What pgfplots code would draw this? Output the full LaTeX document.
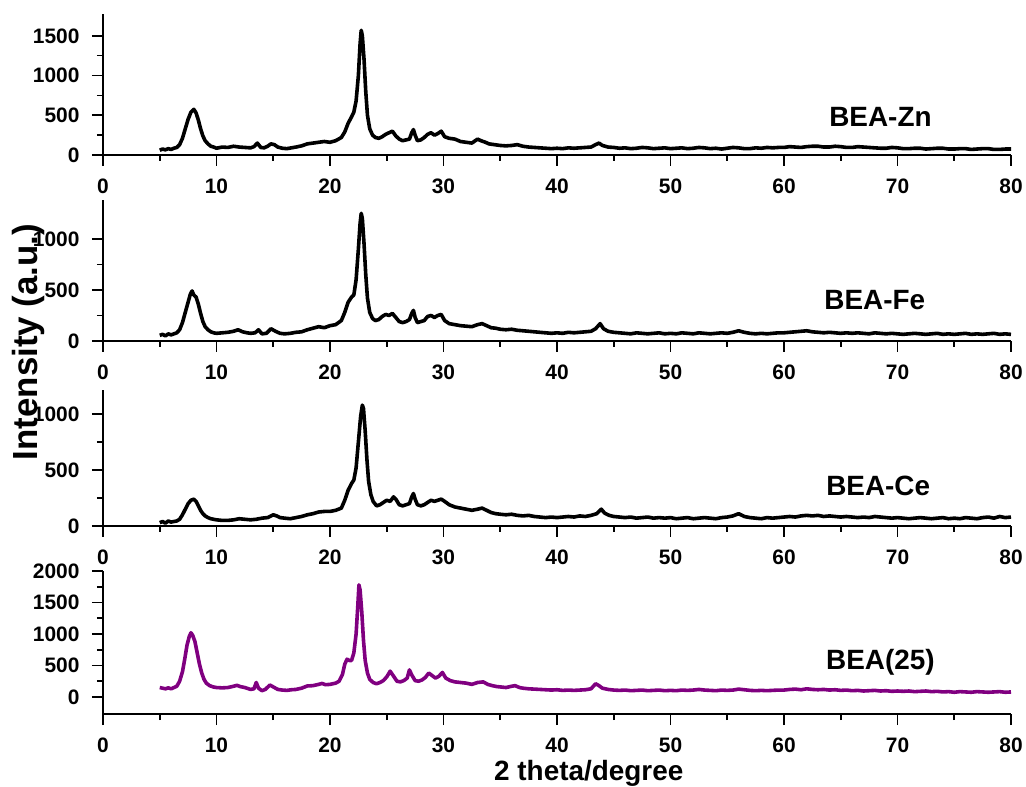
\documentclass[border=0pt]{standalone}
\usepackage{fontspec}
\setmainfont{Liberation Sans}
\usepackage{pgfplots}
\pgfplotsset{compat=1.18}
\definecolor{bpurple}{RGB}{128,0,128}
\tikzset{lab/.style={font=\fontsize{28}{32}\selectfont\bfseries}}
\pgfplotsset{
 panel/.style={
  scale only axis, width=908bp, anchor=south west,
  xmin=0, xmax=80, xtick={0,10,...,80}, minor x tick num=1,
  minor y tick num=1,
  axis x line*=bottom, axis y line*=left,
  axis line style={line width=1.6bp, -},
  tick align=outside,
  major tick length=11bp, minor tick length=6bp,
  every tick/.append style={line width=1.6bp, black},
  tick label style={font=\fontsize{21}{24}\selectfont\bfseries},
  xticklabel style={yshift=-9bp},
  yticklabel style={xshift=-9bp},
  /pgf/number format/assume math mode=true,
  /pgf/number format/1000 sep={},
  clip=false,
 },
 xrd/.style={line width=3.6bp, line join=round, black, no marks},
}
\begin{document}
\begin{tikzpicture}
\useasboundingbox (0,0) rectangle (1026bp,787bp);
% ---------- BEA-Zn ----------
\begin{axis}[panel, at={(103bp,632bp)}, height=141bp, ymin=0, ymax=1775, ytick={0,500,1000,1500}]
\addplot[xrd] coordinates {
(5.0,60)(5.25,75)(5.5,65)(5.75,80)(6.0,70)(6.25,85)(6.5,95)(6.75,130)(7.0,210)(7.25,330)(7.5,450)(7.75,540)(8.0,575)(8.2,530)(8.4,440)(8.6,330)(8.8,240)(9.0,180)(9.25,140)(9.5,110)(9.75,100)(10.0,85)(10.5,100)(11.0,95)(11.5,110)(12.0,100)(12.5,95)(13.0,90)(13.3,105)(13.6,150)(13.9,95)(14.2,90)(14.5,110)(14.8,140)(15.1,130)(15.4,100)(15.8,85)(16.2,80)(16.6,90)(17.0,100)(17.5,115)(18.0,140)(18.5,150)(19.0,160)(19.5,170)(20.0,160)(20.5,180)(21.0,220)(21.3,290)(21.6,400)(21.9,480)(22.1,540)(22.3,680)(22.5,1000)(22.65,1400)(22.75,1570)(22.85,1500)(23.0,1200)(23.15,800)(23.3,500)(23.5,330)(23.75,250)(24.0,220)(24.3,210)(24.6,230)(24.9,260)(25.2,280)(25.5,300)(25.8,240)(26.1,200)(26.4,180)(26.7,190)(27.0,200)(27.2,280)(27.35,320)(27.5,250)(27.7,180)(28.0,190)(28.3,220)(28.6,260)(28.9,280)(29.2,250)(29.5,270)(29.8,300)(30.1,230)(30.5,210)(31.0,200)(31.5,170)(32.0,160)(32.5,150)(33.0,200)(33.3,180)(33.7,160)(34.0,140)(34.5,130)(35.0,120)(35.5,115)(36.0,120)(36.5,130)(37.0,110)(37.5,100)(38.0,95)(38.5,90)(39.0,85)(39.5,80)(40.0,85)(40.5,80)(41.0,90)(41.5,85)(42.0,90)(42.5,95)(43.0,100)(43.4,130)(43.7,150)(44.0,120)(44.5,100)(45.0,95)(45.5,85)(46.0,90)(46.5,80)(47.0,85)(47.5,95)(48.0,90)(48.5,80)(49.0,85)(49.5,90)(50.0,80)(50.5,85)(51.0,90)(51.5,80)(52.0,85)(52.5,95)(53.0,90)(53.5,80)(54.0,85)(54.5,75)(55.0,85)(55.5,95)(56.0,90)(56.5,80)(57.0,80)(57.5,90)(58.0,85)(58.5,95)(59.0,90)(59.5,95)(60.0,95)(60.5,105)(61.0,100)(61.5,95)(62.0,105)(62.5,110)(63.0,110)(63.5,100)(64.0,100)(64.5,110)(65.0,105)(65.5,95)(66.0,95)(66.5,105)(67.0,100)(67.5,95)(68.0,90)(68.5,85)(69.0,85)(69.5,95)(70.0,90)(70.5,80)(71.0,80)(71.5,85)(72.0,85)(72.5,75)(73.0,80)(73.5,85)(74.0,85)(74.5,75)(75.0,75)(75.5,80)(76.0,80)(76.5,70)(77.0,75)(77.5,80)(78.0,80)(78.5,70)(79.0,70)(79.5,75)(80.0,75)};
\node[lab] at (axis cs:68.5,479) {BEA-Zn};
\end{axis}
% ---------- BEA-Fe ----------
\begin{axis}[panel, at={(103bp,446bp)}, height=141bp, ymin=0, ymax=1380, ytick={0,500,1000}]
\addplot[xrd] coordinates {
(5.0,55)(5.25,65)(5.5,50)(5.75,70)(6.0,60)(6.25,70)(6.5,80)(6.75,110)(7.0,180)(7.25,280)(7.5,380)(7.7,460)(7.85,490)(8.0,450)(8.2,430)(8.4,360)(8.6,270)(8.8,190)(9.0,140)(9.25,110)(9.5,90)(9.75,80)(10.0,75)(10.5,80)(11.0,85)(11.5,95)(11.9,110)(12.3,90)(12.7,80)(13.0,75)(13.4,80)(13.7,110)(14.0,70)(14.4,75)(14.8,120)(15.2,95)(15.6,75)(16.0,70)(16.5,75)(17.0,85)(17.5,90)(18.0,110)(18.5,125)(19.0,140)(19.5,130)(20.0,150)(20.5,160)(21.0,200)(21.3,280)(21.6,380)(21.9,430)(22.1,450)(22.3,600)(22.5,900)(22.65,1150)(22.75,1250)(22.85,1200)(23.0,950)(23.15,650)(23.3,420)(23.5,280)(23.75,220)(24.0,200)(24.3,210)(24.6,240)(24.9,260)(25.2,250)(25.5,270)(25.8,230)(26.1,190)(26.4,180)(26.7,190)(27.0,210)(27.2,270)(27.35,300)(27.5,230)(27.7,180)(28.0,190)(28.3,200)(28.6,240)(28.9,250)(29.2,230)(29.5,250)(29.8,260)(30.1,200)(30.5,170)(31.0,160)(31.5,150)(32.0,145)(32.5,140)(33.0,160)(33.4,170)(33.8,150)(34.2,130)(34.6,125)(35.0,115)(35.5,110)(36.0,115)(36.5,105)(37.0,100)(37.5,95)(38.0,90)(38.5,85)(39.0,80)(39.5,75)(40.0,80)(40.5,75)(41.0,85)(41.5,80)(42.0,85)(42.5,90)(43.0,95)(43.4,120)(43.8,170)(44.1,120)(44.5,95)(45.0,85)(45.5,80)(46.0,75)(46.5,70)(47.0,80)(47.5,75)(48.0,70)(48.5,75)(49.0,80)(49.5,70)(50.0,75)(50.5,70)(51.0,80)(51.5,75)(52.0,70)(52.5,80)(53.0,75)(53.5,70)(54.0,75)(54.5,80)(55.0,75)(55.5,85)(56.0,100)(56.5,85)(57.0,75)(57.5,70)(58.0,75)(58.5,70)(59.0,75)(59.5,80)(60.0,80)(60.5,85)(61.0,90)(61.5,95)(62.0,100)(62.5,90)(63.0,85)(63.5,80)(64.0,85)(64.5,80)(65.0,75)(65.5,80)(66.0,75)(66.5,80)(67.0,75)(67.5,70)(68.0,80)(68.5,75)(69.0,70)(69.5,75)(70.0,70)(70.5,65)(71.0,70)(71.5,75)(72.0,70)(72.5,65)(73.0,70)(73.5,75)(74.0,65)(74.5,70)(75.0,65)(75.5,70)(76.0,75)(76.5,65)(77.0,70)(77.5,65)(78.0,70)(78.5,75)(79.0,65)(79.5,70)(80.0,65)};
\node[lab] at (axis cs:68,402) {BEA-Fe};
\end{axis}
% ---------- BEA-Ce ----------
\begin{axis}[panel, at={(103bp,261bp)}, height=136bp, ymin=0, ymax=1215, ytick={0,500,1000}]
\addplot[xrd] coordinates {
(5.0,30)(5.25,40)(5.5,25)(5.75,45)(6.0,35)(6.25,40)(6.5,45)(6.75,60)(7.0,100)(7.25,150)(7.5,200)(7.75,230)(8.0,240)(8.2,220)(8.4,180)(8.6,140)(8.8,110)(9.0,90)(9.25,75)(9.5,65)(9.75,60)(10.0,55)(10.5,50)(11.0,50)(11.5,55)(12.0,65)(12.5,60)(13.0,55)(13.5,60)(14.0,70)(14.5,75)(15.0,100)(15.3,90)(15.6,75)(16.0,70)(16.5,65)(17.0,75)(17.5,85)(18.0,100)(18.5,110)(19.0,125)(19.5,130)(20.0,130)(20.5,140)(21.0,160)(21.3,230)(21.6,320)(21.9,380)(22.1,410)(22.3,520)(22.5,750)(22.7,980)(22.85,1080)(22.95,1050)(23.1,850)(23.25,600)(23.4,400)(23.6,280)(23.8,220)(24.1,180)(24.4,190)(24.7,210)(25.0,230)(25.3,220)(25.6,260)(25.8,240)(26.1,190)(26.4,180)(26.7,190)(27.0,200)(27.2,260)(27.35,290)(27.5,240)(27.7,190)(28.0,180)(28.3,190)(28.6,210)(28.9,230)(29.2,220)(29.5,230)(29.8,240)(30.1,220)(30.5,190)(31.0,170)(31.5,160)(32.0,150)(32.5,140)(33.0,150)(33.4,160)(33.8,140)(34.2,120)(34.6,110)(35.0,105)(35.5,100)(36.0,105)(36.5,95)(37.0,90)(37.5,95)(38.0,85)(38.5,80)(39.0,75)(39.5,80)(40.0,75)(40.5,80)(41.0,85)(41.5,80)(42.0,90)(42.5,85)(43.0,95)(43.5,110)(43.9,150)(44.2,115)(44.6,95)(45.0,85)(45.5,80)(46.0,75)(46.5,80)(47.0,70)(47.5,75)(48.0,80)(48.5,70)(49.0,75)(49.5,70)(50.0,75)(50.5,65)(51.0,70)(51.5,75)(52.0,65)(52.5,70)(53.0,75)(53.5,70)(54.0,65)(54.5,75)(55.0,80)(55.5,90)(56.0,110)(56.5,85)(57.0,75)(57.5,70)(58.0,65)(58.5,75)(59.0,70)(59.5,75)(60.0,80)(60.5,85)(61.0,80)(61.5,90)(62.0,95)(62.5,90)(63.0,95)(63.5,85)(64.0,90)(64.5,85)(65.0,80)(65.5,85)(66.0,80)(66.5,75)(67.0,80)(67.5,75)(68.0,85)(68.5,80)(69.0,75)(69.5,70)(70.0,75)(70.5,70)(71.0,65)(71.5,70)(72.0,75)(72.5,70)(73.0,65)(73.5,70)(74.0,75)(74.5,65)(75.0,70)(75.5,65)(76.0,75)(76.5,70)(77.0,65)(77.5,75)(78.0,80)(78.5,70)(79.0,85)(79.5,75)(80.0,80)};
\node[lab] at (axis cs:68.3,357) {BEA-Ce};
\end{axis}
% ---------- BEA(25) ----------
\begin{axis}[panel, at={(103bp,73bp)}, height=143bp, ymin=-270, ymax=2000, ytick={0,500,1000,1500,2000},
  xlabel={2 theta/degree},
  xlabel style={font=\fontsize{28}{32}\selectfont\bfseries, at={(rel axis cs:0.535,0)}, anchor=center, yshift=-59bp}]
\addplot[xrd, color=bpurple] coordinates {
(5.0,150)(5.25,140)(5.5,130)(5.75,145)(6.0,130)(6.25,150)(6.5,170)(6.75,250)(7.0,400)(7.2,600)(7.4,820)(7.6,960)(7.75,1020)(7.9,980)(8.1,880)(8.3,700)(8.5,520)(8.7,380)(8.9,280)(9.1,220)(9.4,180)(9.7,160)(10.0,150)(10.5,145)(11.0,150)(11.5,170)(11.8,185)(12.1,165)(12.5,150)(13.0,120)(13.3,130)(13.5,230)(13.7,140)(14.0,100)(14.3,120)(14.7,190)(15.0,160)(15.4,120)(15.8,110)(16.2,105)(16.6,115)(17.0,120)(17.5,140)(18.0,175)(18.5,180)(19.0,200)(19.3,215)(19.6,195)(20.0,200)(20.5,220)(20.8,250)(21.1,360)(21.3,520)(21.5,600)(21.7,580)(21.9,580)(22.1,700)(22.3,1000)(22.45,1450)(22.55,1780)(22.65,1700)(22.8,1350)(22.95,900)(23.1,580)(23.3,380)(23.5,280)(23.8,230)(24.1,210)(24.4,230)(24.7,260)(25.0,320)(25.3,410)(25.6,330)(25.9,250)(26.2,240)(26.5,260)(26.8,300)(27.0,430)(27.2,350)(27.5,260)(27.8,250)(28.1,270)(28.4,310)(28.7,380)(29.0,340)(29.3,300)(29.6,330)(29.9,390)(30.2,300)(30.6,260)(31.0,240)(31.5,230)(32.0,220)(32.5,200)(33.0,230)(33.5,240)(33.9,200)(34.3,180)(34.7,165)(35.0,160)(35.5,150)(36.0,170)(36.3,180)(36.7,150)(37.0,140)(37.5,130)(38.0,125)(38.5,120)(39.0,115)(39.5,110)(40.0,115)(40.5,105)(41.0,110)(41.5,105)(42.0,110)(42.5,115)(43.0,130)(43.4,210)(43.7,180)(44.0,140)(44.5,120)(45.0,110)(45.5,105)(46.0,110)(46.5,100)(47.0,105)(47.5,110)(48.0,100)(48.5,105)(49.0,110)(49.5,100)(50.0,105)(50.5,100)(51.0,110)(51.5,105)(52.0,110)(52.5,120)(53.0,110)(53.5,105)(54.0,100)(54.5,110)(55.0,105)(55.5,110)(56.0,125)(56.5,115)(57.0,105)(57.5,100)(58.0,105)(58.5,100)(59.0,105)(59.5,110)(60.0,110)(60.5,120)(61.0,125)(61.5,115)(62.0,130)(62.5,120)(63.0,115)(63.5,120)(64.0,110)(64.5,115)(65.0,105)(65.5,110)(66.0,100)(66.5,105)(67.0,95)(67.5,100)(68.0,105)(68.5,95)(69.0,100)(69.5,90)(70.0,95)(70.5,90)(71.0,95)(71.5,85)(72.0,90)(72.5,95)(73.0,85)(73.5,90)(74.0,80)(74.5,85)(75.0,75)(75.5,85)(76.0,80)(76.5,75)(77.0,85)(77.5,80)(78.0,75)(78.5,80)(79.0,85)(79.5,75)(80.0,80)};
\node[lab] at (axis cs:68.5,551) {BEA(25)};
\end{axis}
\node[rotate=90, font=\fontsize{35}{40}\selectfont\bfseries] at (28bp,445bp) {Intensity (a.u.)};
\end{tikzpicture}
\end{document}
